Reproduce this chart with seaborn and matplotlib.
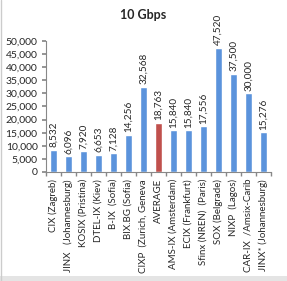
import matplotlib
matplotlib.use("Agg")
import matplotlib.pyplot as plt
import seaborn as sns
import pandas as pd
import numpy as np

categories = ["CIX (Zagreb)", "JINX   (Johannesburg)", "KOSIX (Pristina)", "DTEL-IX (Kiev)",
              "B-IX  (Sofia)", "BIX.BG (Sofia)", "CIXP  (Zurich, Geneva", "AVERAGE",
              "AMS-IX (Amsterdam)", "ECIX (Frankfurt)", "Sfinx (NREN)  (Paris)", "SOX (Belgrade)",
              "NIXP  (Lagos)", "CAR-IX  /Amsix-Carib", "JINX* (Johannesburg)"]
values = [8532, 6096, 7920, 6653, 7128, 14256, 32568, 18763, 15840, 15840, 17556,
          47520, 37500, 30000, 15276]
value_labels = ["8,532", "6,096", "7,920", "6,653", "7,128", "14,256", "32,568", "18,763",
                "15,840", "15,840", "17,556", "47,520", "37,500", "30,000", "15,276"]
title = "10 Gbps"

sns.set_theme(style="white")
plt.rcParams['font.family'] = ['Lato', 'DejaVu Sans']

df = pd.DataFrame({"cat": categories, "val": values})
colors = ["#C0504D" if c == "AVERAGE" else "#5B93DC" for c in categories]

fig = plt.figure(figsize=(2.87, 2.81), dpi=100)
ax = fig.add_axes([0.160, 0.388, 0.784, 0.466])
sns.barplot(data=df, x="cat", y="val", hue="cat", palette=colors, legend=False,
            width=0.47, ax=ax, saturation=1)
n = len(categories)
ax.set_ylim(0, 50000)
ax.set_xlim(-0.5, n - 0.5)
ax.set_yticks(range(0, 50001, 5000))
ax.set_yticklabels([f"{v:,}" for v in range(0, 50001, 5000)], fontsize=7.5)
ax.set_xticks(range(n))
ax.set_xticklabels(categories, rotation=90, fontsize=7)
ax.set_xticks(np.arange(-0.5, n, 1.0), minor=True)
ax.set_xlabel("")
ax.set_ylabel("")
ax.tick_params(axis='y', length=3, pad=3, color="#888888", direction='out', left=True)
ax.tick_params(axis='x', which='major', length=0, pad=5)
ax.tick_params(axis='x', which='minor', length=3, color="#888888", direction='out', bottom=True)
for s in ["top", "right"]:
    ax.spines[s].set_visible(False)
for s in ["left", "bottom"]:
    ax.spines[s].set_color("#888888")
    ax.spines[s].set_linewidth(0.8)

for i, (v, lab) in enumerate(zip(values, value_labels)):
    ax.text(i, v + 900, lab, rotation=90, ha="center", va="bottom", fontsize=7.2)

fig.text(0.5, 0.945, title, ha="center", va="center", fontsize=9, fontweight="bold")
fig.add_artist(plt.Line2D([0.004, 0.004], [0.0, 1.0], transform=fig.transFigure,
                          color="#CCCCCC", linewidth=1))
fig.add_artist(plt.Rectangle((0.0, 0.0), 1.0, 0.018, transform=fig.transFigure,
                             facecolor="#E4E4E4", edgecolor="none"))
fig.savefig("out.png", dpi=100)
